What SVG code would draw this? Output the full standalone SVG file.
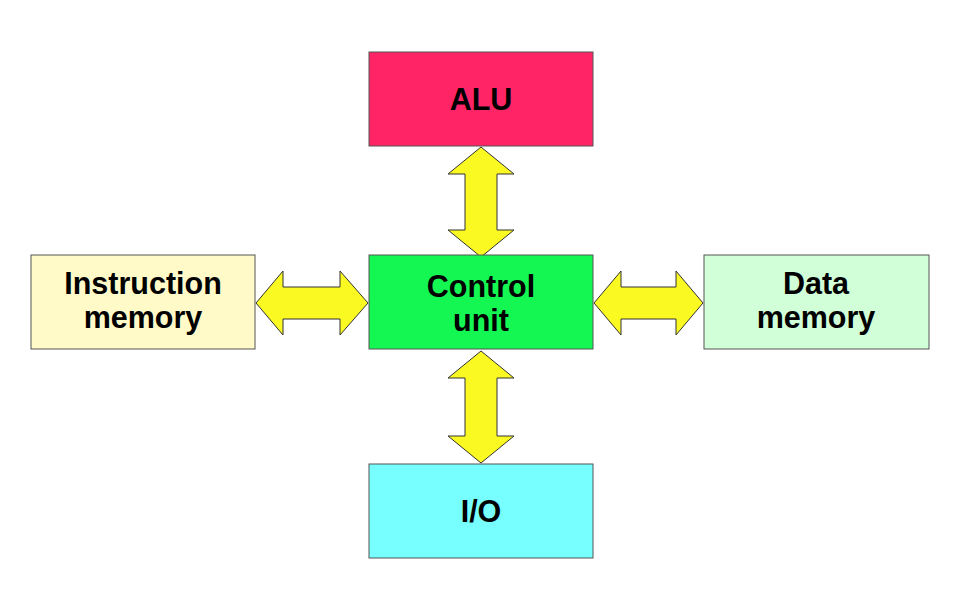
<svg xmlns="http://www.w3.org/2000/svg" width="960" height="611" viewBox="0 0 960 611">
<style>
.box{stroke:#555;stroke-width:1}
.arr{fill:#fafa22;stroke:#333;stroke-width:1;stroke-linejoin:miter}
text{font-family:"Liberation Sans",Arial,sans-serif;font-weight:bold;font-size:30.5px;text-anchor:middle;fill:#000}
</style>
<rect width="960" height="611" fill="#fff"/>
<g id="connectors">
<polygon class="arr" points="481,147 514,174 497,174 497,230 514,230 481,257 448,230 465,230 465,174 448,174"/>
<polygon class="arr" points="481,351 514,378 497,378 497,436 514,436 481,463 448,436 465,436 465,378 448,378"/>
<polygon class="arr" points="256,303 283,271 283,287 340,287 340,271 368,303 340,335 340,319 283,319 283,335"/>
<polygon class="arr" points="594,303 621,271 621,287 676,287 676,271 703,303 676,335 676,319 621,319 621,335"/>
</g>
<g id="alu"><rect class="box" x="369" y="52" width="224" height="94" fill="#ff2466"/><text x="481" y="110">ALU</text></g>
<g id="control"><rect class="box" x="369" y="255" width="224" height="94" fill="#14f752"/><text x="481" y="297">Control</text><text x="481" y="331">unit</text></g>
<g id="imem"><rect class="box" x="31" y="255" width="224" height="94" fill="#fffac8"/><text x="143" y="294">Instruction</text><text x="143" y="328">memory</text></g>
<g id="dmem"><rect class="box" x="704" y="255" width="225" height="94" fill="#d0ffd8"/><text x="816" y="294">Data</text><text x="816" y="328">memory</text></g>
<g id="io"><rect class="box" x="369" y="464" width="224" height="94" fill="#77ffff"/><text x="481" y="522">I/O</text></g>
</svg>
